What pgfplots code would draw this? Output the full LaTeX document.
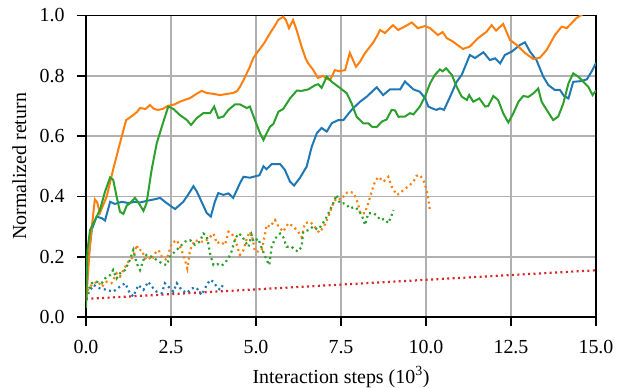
\documentclass[border=0pt]{standalone}
\usepackage{fontspec}
\setmainfont{Liberation Serif}
\usepackage{pgfplots}
\pgfplotsset{compat=1.18}
\definecolor{tabblue}{HTML}{1F77B4}
\definecolor{taborange}{HTML}{FF7F0E}
\definecolor{tabgreen}{HTML}{2CA02C}
\definecolor{tabred}{HTML}{D62728}
\definecolor{gridgray}{HTML}{B0B0B0}
\begin{document}
\begin{tikzpicture}
\begin{axis}[
  scale only axis, width=510bp, height=301.5bp,
  xmin=0, xmax=15, ymin=0, ymax=1,
  xtick={0,2.5,5,7.5,10,12.5,15}, ytick={0,0.2,0.4,0.6,0.8,1.0},
  scaled ticks=false,
  /pgf/number format/.cd, fixed, fixed zerofill, precision=1, assume math mode=true, /pgfplots/.cd,
  tick label style={font=\fontsize{20}{24}\selectfont},
  xticklabel style={yshift=-11bp},
  yticklabel style={xshift=-9bp},
  grid=major, major grid style={draw=gridgray, line width=1.6bp},
  axis line style={line width=1.6bp, black},
  tick align=outside, xtick pos=bottom, ytick pos=left,
  major tick length=9bp, tick style={line width=1.6bp, black},
  xlabel={Interaction steps (10\textsuperscript{3})},
  ylabel={Normalized return},
  every axis y label/.style={at={(axis description cs:-0.131,0.5)}, rotate=90, anchor=center, font=\fontsize{20}{24}\selectfont},
  every axis x label/.style={at={(axis description cs:0.5,-0.199)}, anchor=center, font=\fontsize{20}{24}\selectfont},
  clip=true,
  every axis plot/.append style={line width=2bp},
  mydot/.style={line width=2.2bp, dash pattern=on 2bp off 3.4bp},
]
% red dotted
\addplot[tabred, mydot] coordinates {(0,0.06) (15,0.155)};
% blue dotted
\addplot[tabblue, mydot] coordinates {(0.0,0.06)(0.07,0.079)(0.22,0.106)(0.41,0.095)(0.61,0.09)(0.80,0.084)(1.0,0.101)(1.15,0.112)(1.29,0.079)(1.39,0.068)(1.54,0.106)(1.69,0.09)(1.83,0.117)(1.93,0.101)(2.08,0.084)(2.23,0.079)(2.32,0.112)(2.42,0.101)(2.57,0.084)(2.67,0.112)(2.81,0.09)(2.96,0.079)(3.11,0.095)(3.25,0.097)(3.40,0.073)(3.55,0.106)(3.65,0.123)(3.75,0.117)(3.84,0.101)(3.94,0.09)(4.06,0.112)};
% orange dotted
\addplot[taborange, mydot] coordinates {(0.0,0.07)(0.07,0.095)(0.22,0.112)(0.36,0.117)(0.46,0.10)(0.61,0.117)(0.75,0.112)(0.90,0.145)(1.0,0.134)(1.1,0.156)(1.25,0.184)(1.39,0.2)(1.49,0.239)(1.54,0.222)(1.64,0.222)(1.74,0.194)(1.83,0.2)(1.93,0.189)(2.03,0.211)(2.13,0.222)(2.23,0.2)(2.37,0.189)(2.52,0.244)(2.67,0.255)(2.81,0.222)(2.91,0.189)(2.98,0.161)(3.06,0.222)(3.2,0.255)(3.35,0.25)(3.5,0.25)(3.6,0.26)(3.75,0.277)(3.85,0.244)(3.95,0.25)(4.09,0.239)(4.19,0.283)(4.28,0.277)(4.38,0.261)(4.48,0.222)(4.53,0.206)(4.63,0.222)(4.73,0.261)(4.82,0.283)(4.9,0.26)(4.97,0.217)(5.07,0.217)(5.17,0.222)(5.27,0.277)(5.31,0.305)(5.41,0.299)(5.56,0.322)(5.66,0.30)(5.80,0.283)(5.95,0.311)(6.1,0.30)(6.24,0.283)(6.34,0.265)(6.44,0.311)(6.59,0.316)(6.72,0.30)(6.86,0.28)(7.0,0.30)(7.13,0.333)(7.27,0.377)(7.37,0.394)(7.52,0.39)(7.62,0.41)(7.76,0.416)(7.88,0.41)(8.0,0.377)(8.06,0.344)(8.2,0.344)(8.30,0.377)(8.40,0.416)(8.50,0.449)(8.60,0.465)(8.75,0.449)(8.89,0.465)(8.99,0.433)(9.14,0.405)(9.24,0.41)(9.33,0.421)(9.48,0.433)(9.63,0.449)(9.72,0.468)(9.82,0.471)(9.92,0.455)(10.02,0.421)(10.07,0.388)(10.12,0.35)};
% green dotted
\addplot[tabgreen, mydot] coordinates {(0.0,0.06)(0.07,0.09)(0.17,0.112)(0.31,0.117)(0.46,0.112)(0.56,0.128)(0.71,0.139)(0.80,0.156)(0.90,0.128)(1.0,0.145)(1.15,0.156)(1.29,0.189)(1.39,0.222)(1.49,0.178)(1.59,0.156)(1.69,0.189)(1.78,0.206)(1.93,0.2)(2.08,0.189)(2.23,0.178)(2.37,0.172)(2.47,0.2)(2.62,0.217)(2.76,0.233)(2.91,0.25)(3.06,0.255)(3.2,0.24)(3.35,0.25)(3.45,0.277)(3.55,0.27)(3.65,0.21)(3.7,0.19)(3.75,0.172)(3.87,0.175)(3.99,0.17)(4.09,0.18)(4.19,0.195)(4.28,0.217)(4.38,0.256)(4.48,0.277)(4.58,0.27)(4.68,0.25)(4.78,0.233)(4.87,0.272)(4.93,0.25)(5.07,0.26)(5.17,0.228)(5.31,0.19)(5.39,0.172)(5.46,0.232)(5.56,0.26)(5.71,0.277)(5.80,0.265)(5.90,0.233)(6.05,0.233)(6.15,0.222)(6.24,0.217)(6.34,0.233)(6.39,0.283)(6.54,0.288)(6.68,0.30)(6.8,0.29)(6.9,0.30)(7.03,0.322)(7.13,0.344)(7.27,0.377)(7.37,0.405)(7.47,0.377)(7.57,0.377)(7.67,0.372)(7.76,0.36)(7.9,0.365)(8.01,0.355)(8.11,0.338)(8.21,0.305)(8.30,0.344)(8.45,0.344)(8.55,0.338)(8.65,0.322)(8.78,0.325)(8.89,0.311)(8.99,0.338)(9.04,0.355)};
% blue solid
\addplot[tabblue] coordinates {(0,0.05)(0.07,0.19)(0.17,0.29)(0.31,0.333)(0.46,0.328)(0.56,0.32)(0.71,0.382)(0.85,0.375)(1.05,0.382)(1.25,0.378)(1.44,0.382)(1.6,0.38)(1.78,0.385)(2.0,0.39)(2.18,0.395)(2.37,0.378)(2.62,0.358)(2.86,0.382)(3.0,0.405)(3.16,0.434)(3.26,0.416)(3.40,0.382)(3.55,0.345)(3.67,0.333)(3.79,0.382)(3.89,0.411)(4.04,0.405)(4.19,0.41)(4.33,0.395)(4.53,0.444)(4.63,0.465)(4.82,0.462)(4.92,0.465)(5.1,0.47)(5.22,0.50)(5.31,0.49)(5.46,0.507)(5.71,0.507)(5.85,0.488)(6.0,0.449)(6.12,0.436)(6.29,0.461)(6.49,0.499)(6.64,0.565)(6.79,0.61)(6.93,0.627)(7.08,0.615)(7.23,0.643)(7.42,0.653)(7.57,0.653)(7.81,0.687)(8.06,0.714)(8.26,0.731)(8.55,0.762)(8.74,0.736)(8.94,0.755)(9.24,0.755)(9.38,0.781)(9.63,0.755)(9.82,0.747)(9.97,0.726)(10.07,0.698)(10.22,0.69)(10.31,0.687)(10.41,0.692)(10.53,0.687)(10.71,0.731)(10.90,0.78)(11.05,0.803)(11.29,0.869)(11.44,0.859)(11.69,0.878)(11.88,0.852)(12.03,0.858)(12.18,0.841)(12.32,0.869)(12.52,0.88)(12.76,0.902)(12.91,0.911)(13.06,0.88)(13.25,0.852)(13.45,0.797)(13.6,0.769)(13.79,0.753)(13.94,0.753)(14.06,0.733)(14.19,0.725)(14.33,0.78)(14.53,0.782)(14.73,0.788)(14.87,0.814)(15.0,0.843)};
% orange solid
\addplot[taborange] coordinates {(0,0.05)(0.12,0.245)(0.26,0.39)(0.33,0.38)(0.41,0.345)(0.5,0.37)(0.61,0.40)(0.8,0.49)(1.0,0.577)(1.18,0.653)(1.39,0.67)(1.5,0.68)(1.59,0.693)(1.75,0.69)(1.88,0.703)(2.0,0.69)(2.12,0.687)(2.25,0.69)(2.41,0.70)(2.6,0.705)(2.76,0.714)(2.9,0.72)(3.06,0.726)(3.25,0.74)(3.40,0.75)(3.55,0.743)(3.75,0.74)(3.94,0.736)(4.15,0.74)(4.33,0.743)(4.45,0.75)(4.53,0.764)(4.63,0.785)(4.73,0.809)(4.82,0.83)(4.92,0.859)(5.02,0.875)(5.12,0.89)(5.25,0.91)(5.41,0.941)(5.55,0.965)(5.65,0.985)(5.80,0.996)(5.88,0.985)(5.97,0.958)(6.09,0.985)(6.2,0.95)(6.34,0.897)(6.45,0.86)(6.53,0.842)(6.68,0.82)(6.82,0.793)(6.97,0.80)(7.08,0.79)(7.18,0.786)(7.32,0.819)(7.45,0.815)(7.62,0.819)(7.76,0.876)(7.94,0.83)(8.05,0.845)(8.21,0.876)(8.44,0.909)(8.55,0.93)(8.65,0.952)(8.79,0.942)(9.03,0.968)(9.18,0.952)(9.4,0.965)(9.58,0.977)(9.76,0.958)(9.97,0.965)(10.12,0.958)(10.35,0.935)(10.49,0.945)(10.61,0.925)(10.80,0.913)(10.95,0.90)(11.09,0.889)(11.29,0.897)(11.53,0.925)(11.78,0.946)(11.93,0.968)(12.06,0.95)(12.27,0.972)(12.47,0.919)(12.67,0.902)(12.91,0.876)(13.15,0.856)(13.35,0.86)(13.55,0.886)(13.79,0.935)(13.99,0.963)(14.14,0.958)(14.43,0.992)(14.62,1.005)(15,1.03)};
% green solid
\addplot[tabgreen] coordinates {(0,0.03)(0.04,0.22)(0.12,0.289)(0.26,0.32)(0.41,0.355)(0.56,0.416)(0.71,0.463)(0.80,0.455)(0.90,0.40)(1.0,0.349)(1.10,0.342)(1.2,0.37)(1.29,0.377)(1.44,0.395)(1.54,0.38)(1.69,0.352)(1.78,0.377)(1.93,0.488)(2.08,0.576)(2.23,0.631)(2.42,0.698)(2.57,0.69)(2.76,0.67)(2.96,0.654)(3.09,0.637)(3.26,0.66)(3.45,0.676)(3.65,0.676)(3.77,0.698)(3.89,0.66)(4.04,0.665)(4.19,0.687)(4.38,0.705)(4.53,0.705)(4.73,0.693)(4.82,0.698)(4.97,0.653)(5.12,0.609)(5.22,0.587)(5.31,0.609)(5.41,0.631)(5.51,0.64)(5.66,0.681)(5.80,0.69)(6.0,0.725)(6.2,0.751)(6.34,0.75)(6.54,0.755)(6.74,0.769)(6.83,0.772)(6.93,0.76)(7.08,0.797)(7.23,0.78)(7.42,0.764)(7.67,0.742)(7.81,0.709)(7.96,0.664)(8.16,0.642)(8.31,0.642)(8.41,0.631)(8.55,0.63)(8.70,0.648)(8.84,0.655)(8.99,0.687)(9.09,0.685)(9.19,0.664)(9.38,0.665)(9.53,0.676)(9.63,0.672)(9.82,0.698)(9.97,0.731)(10.12,0.775)(10.26,0.803)(10.41,0.821)(10.49,0.815)(10.59,0.825)(10.76,0.803)(10.90,0.764)(11.05,0.731)(11.2,0.72)(11.27,0.736)(11.39,0.714)(11.57,0.725)(11.74,0.698)(11.83,0.70)(11.98,0.733)(12.12,0.72)(12.27,0.676)(12.42,0.645)(12.57,0.676)(12.72,0.714)(12.86,0.733)(13.01,0.73)(13.16,0.742)(13.30,0.758)(13.40,0.714)(13.55,0.687)(13.74,0.653)(13.89,0.665)(14.04,0.709)(14.19,0.775)(14.33,0.808)(14.48,0.797)(14.63,0.78)(14.77,0.764)(14.90,0.736)(15.0,0.751)};
\end{axis}
\pgfresetboundingbox
\path[use as bounding box] ([shift={(-86bp,-71bp)}]current axis.south west) rectangle ([shift={(22bp,15.5bp)}]current axis.north east);
\end{tikzpicture}
\end{document}
